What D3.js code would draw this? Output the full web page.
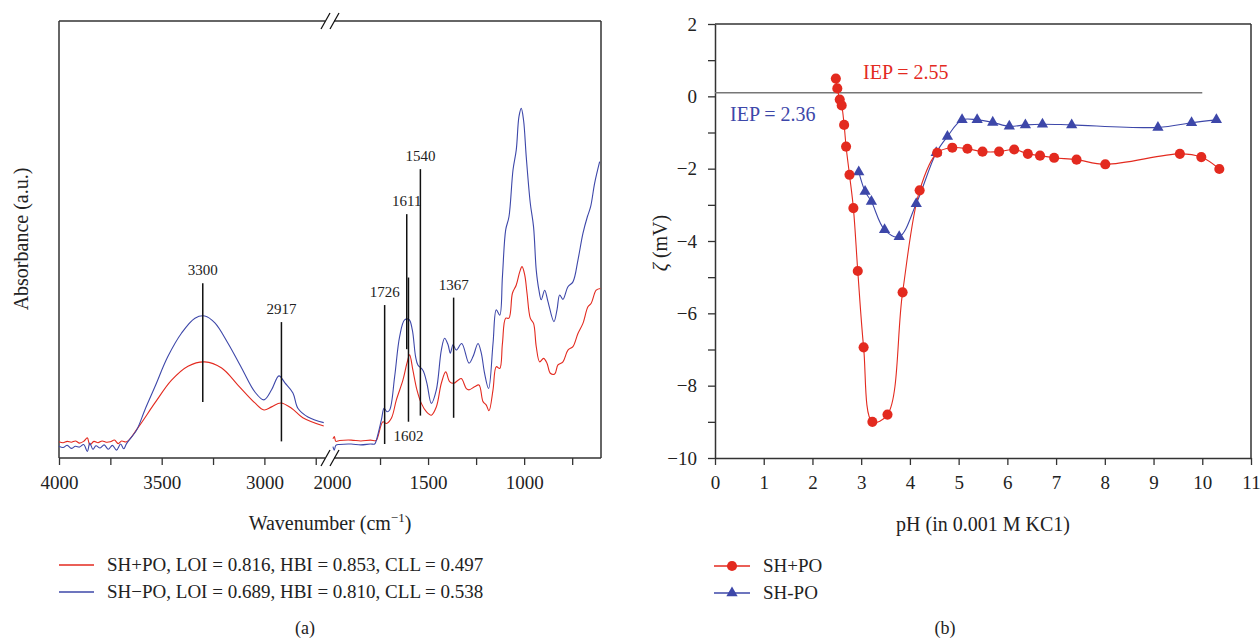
<html>
<head>
<meta charset="utf-8">
<title>FTIR and zeta potential</title>
<style>
  body { margin: 0; background: #fff; }
  text { font-family: "Liberation Serif", "Times New Roman", serif; fill: #222; }
</style>
</head>
<body>
<script src="https://cdn.jsdelivr.net/npm/d3@7"></script>
<script>
// ---- panel (a): FTIR spectra, [wavenumber, absorbance a.u.] ----
var shPlusLeft = [[4000,3.7],[3980,3.5],[3960,3.8],[3940,3.6],[3920,3.9],[3900,3.4],[3880,3.8],[3862,4.6],[3850,3.0],[3830,3.8],[3810,3.5],[3790,3.9],[3770,3.6],[3750,3.7],[3730,4.1],[3712,3.3],[3695,3.9],[3671,3.7],
  [3616,6.9],[3533,12.6],[3452,17.8],[3372,21.0],[3290,22.0],[3208,20.6],[3129,16.7],[3046,12.6],[3002,11.0],[2965,11.7],[2920,12.6],[2868,11.4],[2813,9.2],[2711,7.3]];
var shMinusLeft = [[4000,2.7],[3980,2.4],[3960,2.9],[3940,2.2],[3920,2.7],[3900,2.5],[3880,3.1],[3862,1.5],[3850,3.4],[3835,2.0],[3820,2.8],[3800,2.3],[3780,3.0],[3760,2.0],[3740,2.9],[3720,1.8],[3700,3.2],[3685,2.1],[3671,3.3],
  [3622,6.4],[3582,11.0],[3533,16.3],[3470,23.2],[3403,28.6],[3338,32.0],[3290,32.5],[3241,30.9],[3178,26.3],[3111,20.6],[3046,15.1],[3002,13.3],[2965,15.6],[2929,18.8],[2900,17.2],[2861,14.9],[2837,11.4],[2788,9.4],[2711,8.1]];
var shPlusRight = [[1995,4.4],[1988,4.9],[1980,3.8],[1960,4.0],[1900,4.1],[1850,3.9],[1800,4.1],[1770,4.0],[1761,4.9],[1735,8.3],[1717,7.9],[1691,9.1],[1665,13.3],[1631,17.8],[1610,21.7],[1596,23.6],[1579,20.1],[1558,15.6],[1535,12.5],[1509,10.6],[1483,9.8],[1457,11.7],[1431,17.1],[1408,19.7],[1388,17.5],[1367,17.1],[1344,17.8],[1327,18.2],[1301,15.9],[1287,15.6],[1258,16.3],[1235,16.7],[1214,12.9],[1197,12.1],[1183,10.8],[1162,15.6],[1145,20.9],[1127,20.5],[1113,26.2],[1096,32.0],[1079,32.0],[1061,37.7],[1041,39.6],[1023,42.6],[1011,43.8],[997,41.9],[985,37.7],[968,32.0],[951,30.8],[937,25.5],[919,22.0],[899,22.8],[881,21.7],[864,19.4],[841,19.2],[824,21.3],[798,22.0],[772,24.7],[746,25.5],[720,28.5],[694,30.8],[668,34.6],[651,35.4],[625,38.4],[603,38.8]];
var shMinusRight = [[1995,2.6],[1988,1.8],[1980,2.9],[1960,3.1],[1900,3.2],[1850,3.0],[1800,3.2],[1778,3.2],[1769,4.1],[1743,8.7],[1729,11.4],[1714,10.6],[1700,11.0],[1674,18.6],[1648,27.8],[1622,31.6],[1599,31.7],[1582,29.3],[1565,23.2],[1553,21.3],[1527,20.1],[1506,17.1],[1483,12.5],[1457,15.6],[1431,24.7],[1414,27.4],[1396,25.9],[1384,24.0],[1370,25.9],[1353,24.7],[1325,26.2],[1287,21.7],[1266,23.2],[1240,26.2],[1223,24.0],[1206,19.4],[1185,15.9],[1162,26.2],[1145,33.9],[1127,32.7],[1113,41.5],[1096,52.2],[1079,55.2],[1058,65.9],[1041,70.5],[1027,78.1],[1015,80.0],[1003,77.3],[989,68.9],[968,58.3],[951,52.9],[937,43.0],[923,38.4],[911,36.2],[893,38.4],[876,35.8],[845,31.2],[829,33.9],[815,37.3],[798,36.3],[772,39.2],[746,40.3],[720,45.3],[694,51.4],[671,55.2],[654,57.5],[633,62.9],[607,67.8]];

var peakLabels = ["3300","2917","1726","1611","1602","1540","1367"];
var peakTop    = [40.0, 31.1, 35.0, 55.8, 41.3, 66.1, 36.7];
var peakBottom = [12.8, 3.8, 3.2, 24.9, 8.3, 9.7, 9.2];
var peakBelow  = [false, false, false, false, true, false, false];

var legendA = ["SH+PO, LOI = 0.816, HBI = 0.853, CLL = 0.497", "SH\u2212PO, LOI = 0.689, HBI = 0.810, CLL = 0.538"];

// ---- panel (b): zeta potential ----
var phPlus   = [2.48,2.51,2.56,2.60,2.65,2.69,2.76,2.84,2.93,3.05,3.23,3.54,3.85,4.20,4.56,4.87,5.18,5.49,5.83,6.14,6.42,6.67,6.96,7.42,8.01,9.54,9.98,10.35];
var zetaPlus = [0.49,0.22,-0.09,-0.25,-0.79,-1.39,-2.17,-3.09,-4.83,-6.94,-9.00,-8.80,-5.42,-2.60,-1.56,-1.42,-1.45,-1.53,-1.53,-1.47,-1.59,-1.64,-1.70,-1.75,-1.88,-1.59,-1.68,-2.01];
var phMinus   = [2.95,3.08,3.21,3.48,3.78,4.13,4.54,4.77,5.07,5.38,5.70,6.04,6.37,6.72,7.32,9.09,9.78,10.29];
var zetaMinus = [-2.09,-2.63,-2.91,-3.69,-3.88,-2.97,-1.56,-1.11,-0.65,-0.65,-0.72,-0.83,-0.79,-0.77,-0.79,-0.86,-0.73,-0.65];
var iepLine = 0.1;
var legendB = ["SH+PO", "SH-PO"];

var red = "#e32a1f", blue = "#3d47a9", ink = "#333";
var serif = "'Liberation Serif', 'Times New Roman', serif";

var svg = d3.select("body").append("svg")
  .attr("width", 1260).attr("height", 641);

// ================= panel (a) =================
var aLeft = 59, aRight = 601, aTop = 21, aBottom = 458;
var x1 = d3.scaleLinear().domain([4000, 2700]).range([aLeft, 326]);
var x2 = d3.scaleLinear().domain([2000, 600]).range([332, aRight]);
var yA = d3.scaleLinear().domain([0, 100]).range([aBottom, aTop]);
function xw(w) { return w > 2350 ? x1(w) : x2(w); }

var ga = svg.append("g");

var ax1 = ga.append("g").attr("transform", "translate(0," + aBottom + ")")
  .call(d3.axisBottom(x1).tickValues([4000,3750,3500,3250,3000,2750])
    .tickFormat(function(d){ return d % 500 === 0 ? d : ""; })
    .tickSize(7).tickPadding(11));
var ax2 = ga.append("g").attr("transform", "translate(0," + aBottom + ")")
  .call(d3.axisBottom(x2).tickValues([2000,1750,1500,1250,1000,750])
    .tickFormat(function(d){ return d % 500 === 0 ? d : ""; })
    .tickSize(7).tickPadding(11));
[ax1, ax2].forEach(function(g){
  g.attr("font-family", serif);
  g.select(".domain").remove();
  g.selectAll("line").attr("stroke", ink).attr("stroke-width", 1.3);
  g.selectAll("text").style("font-size", "19px").attr("fill", "#222");
});
ax2.selectAll(".tick").filter(function(d){ return d === 2000; }).select("line").remove();

// frame with axis break
var frame = [[aLeft,aTop,325,aTop],[334,aTop,aRight,aTop],[aLeft,aBottom,325,aBottom],[334,aBottom,aRight,aBottom],
  [aLeft,aTop,aLeft,aBottom],[aRight,aTop,aRight,aBottom]];
ga.selectAll(".frame").data(frame).enter().append("line")
  .attr("x1", function(d){return d[0];}).attr("y1", function(d){return d[1];})
  .attr("x2", function(d){return d[2];}).attr("y2", function(d){return d[3];})
  .attr("stroke", ink).attr("stroke-width", 1.5);
[aTop, aBottom].forEach(function(yy){
  [321, 330].forEach(function(xx){
    ga.append("line").attr("x1", xx).attr("y1", yy + 8).attr("x2", xx + 9).attr("y2", yy - 8)
      .attr("stroke", "#111").attr("stroke-width", 1.3);
  });
});

var lineA1 = d3.line().x(function(d){return x1(d[0]);}).y(function(d){return yA(d[1]);}).curve(d3.curveCatmullRom);
var lineA2 = d3.line().x(function(d){return x2(d[0]);}).y(function(d){return yA(d[1]);}).curve(d3.curveCatmullRom);
[[shPlusLeft, lineA1, red],[shMinusLeft, lineA1, blue],[shPlusRight, lineA2, red],[shMinusRight, lineA2, blue]].forEach(function(s){
  ga.append("path").attr("d", s[1](s[0])).attr("fill", "none").attr("stroke", s[2]).attr("stroke-width", 1.1);
});

// peak markers
peakLabels.forEach(function(p, i){
  var px = xw(+p);
  ga.append("line").attr("x1", px).attr("x2", px).attr("y1", yA(peakTop[i])).attr("y2", yA(peakBottom[i]))
    .attr("stroke", "#111").attr("stroke-width", 1.5);
  ga.append("text").attr("x", px)
    .attr("y", peakBelow[i] ? yA(peakBottom[i]) + 19 : yA(peakTop[i]) - 8)
    .attr("text-anchor", "middle").style("font-size", "15px").text(p);
});

ga.append("text").attr("transform", "translate(28," + 239 + ") rotate(-90)")
  .attr("text-anchor", "middle").style("font-size", "20px").text("Absorbance (a.u.)");
var wl = ga.append("text").attr("x", 330).attr("y", 530).attr("text-anchor", "middle").style("font-size", "20px");
wl.append("tspan").text("Wavenumber (cm");
wl.append("tspan").attr("dy", -8).style("font-size", "13px").text("\u22121");
wl.append("tspan").attr("dy", 8).text(")");

legendA.forEach(function(t, i){
  var ly = 565 + i * 27;
  ga.append("line").attr("x1", 59).attr("x2", 94).attr("y1", ly).attr("y2", ly)
    .attr("stroke", i ? blue : red).attr("stroke-width", 1.3);
  ga.append("text").attr("x", 107).attr("y", ly + 6).style("font-size", "19px").text(t);
});
ga.append("text").attr("x", 305).attr("y", 634).attr("text-anchor", "middle").style("font-size", "18px").text("(a)");

// ================= panel (b) =================
var bLeft = 715, bRight = 1251, bTop = 24, bBottom = 458;
var xB = d3.scaleLinear().domain([0, 11]).range([bLeft, bRight]);
var yB = d3.scaleLinear().domain([-10, 2]).range([bBottom, bTop]);
var gb = svg.append("g");

var bx = gb.append("g").attr("transform", "translate(0," + bBottom + ")")
  .call(d3.axisBottom(xB).ticks(11).tickSize(7).tickPadding(11).tickSizeOuter(0));
var by = gb.append("g").attr("transform", "translate(" + bLeft + ",0)")
  .call(d3.axisLeft(yB).ticks(12).tickSize(7).tickPadding(11).tickSizeOuter(0)
    .tickFormat(function(d){ return d % 2 === 0 ? d3.format("d")(d) : ""; }));
[bx, by].forEach(function(g){
  g.attr("font-family", serif);
  g.select(".domain").attr("stroke", ink).attr("stroke-width", 1.5);
  g.selectAll("line").attr("stroke", ink).attr("stroke-width", 1.3);
  g.selectAll("text").style("font-size", "19px").attr("fill", "#222");
});
gb.append("line").attr("x1", bLeft).attr("x2", bRight).attr("y1", bTop).attr("y2", bTop).attr("stroke", ink).attr("stroke-width", 1.5);
gb.append("line").attr("x1", bRight).attr("x2", bRight).attr("y1", bTop).attr("y2", bBottom).attr("stroke", ink).attr("stroke-width", 1.5);

gb.append("line").attr("x1", xB(0)).attr("x2", xB(10)).attr("y1", yB(iepLine)).attr("y2", yB(iepLine))
  .attr("stroke", "#777").attr("stroke-width", 1.5);

var plusPts = phPlus.map(function(p, i){ return [p, zetaPlus[i]]; });
var minusPts = phMinus.map(function(p, i){ return [p, zetaMinus[i]]; });
var lineB = d3.line().x(function(d){return xB(d[0]);}).y(function(d){return yB(d[1]);}).curve(d3.curveCatmullRom);
gb.append("path").attr("d", lineB(minusPts)).attr("fill", "none").attr("stroke", blue).attr("stroke-width", 1.1);
gb.append("path").attr("d", lineB(plusPts)).attr("fill", "none").attr("stroke", red).attr("stroke-width", 1.1);

var tri = d3.symbol().type(d3.symbolTriangle).size(55);
var circ = d3.symbol().type(d3.symbolCircle).size(80);
gb.selectAll(".tri").data(minusPts).enter().append("path")
  .attr("transform", function(d){ return "translate(" + xB(d[0]) + "," + yB(d[1]) + ")"; })
  .attr("d", tri).attr("fill", blue);
gb.selectAll(".dot").data(plusPts).enter().append("path")
  .attr("transform", function(d){ return "translate(" + xB(d[0]) + "," + yB(d[1]) + ")"; })
  .attr("d", circ).attr("fill", red);

gb.append("text").attr("x", 863).attr("y", 79).style("font-size", "20px").style("fill", red).text("IEP = 2.55");
gb.append("text").attr("x", 730).attr("y", 121).style("font-size", "20px").style("fill", blue).text("IEP = 2.36");

var zl = gb.append("text").attr("transform", "translate(667,243) rotate(-90)").attr("text-anchor", "middle").style("font-size", "20px");
zl.append("tspan").style("font-style", "italic").text("\u03b6");
zl.append("tspan").text(" (mV)");
gb.append("text").attr("x", 983).attr("y", 531).attr("text-anchor", "middle").style("font-size", "20px").text("pH (in 0.001 M KC1)");

legendB.forEach(function(t, i){
  var ly = 566 + i * 27;
  gb.append("line").attr("x1", 714).attr("x2", 750).attr("y1", ly).attr("y2", ly)
    .attr("stroke", i ? blue : red).attr("stroke-width", 1.3);
  gb.append("path").attr("transform", "translate(732," + ly + ")")
    .attr("d", i ? tri : circ).attr("fill", i ? blue : red);
  gb.append("text").attr("x", 763).attr("y", ly + 6).style("font-size", "19px").text(t);
});
gb.append("text").attr("x", 945).attr("y", 634).attr("text-anchor", "middle").style("font-size", "18px").text("(b)");
</script>
</body>
</html>
